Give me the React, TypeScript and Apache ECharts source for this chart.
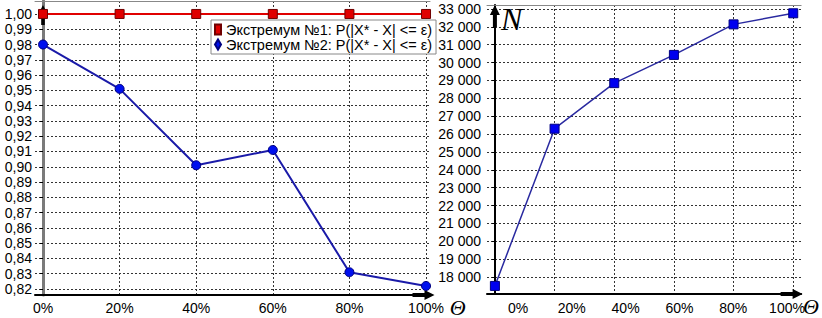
import React, { useEffect, useRef } from 'react';
import * as echarts from 'echarts';

const categories = ['0%', '20%', '40%', '60%', '80%', '100%'];
const categoryIndex = [0, 1, 2, 3, 4, 5];
const seriesNames = ['Экстремум №1: P(|X* - X| <= ε)', 'Экстремум №2: P(|X* - X| <= ε)'];
const extremum1 = [1.0, 1.0, 1.0, 1.0, 1.0, 1.0];
const extremum2 = [0.98, 0.951, 0.901, 0.911, 0.831, 0.822];
const nValues = [17500, 26300, 28850, 30430, 32140, 32760];
const leftYTicks = [0.82, 0.83, 0.84, 0.85, 0.86, 0.87, 0.88, 0.89, 0.9, 0.91, 0.92, 0.93, 0.94, 0.95, 0.96, 0.97, 0.98, 0.99, 1.0];
const rightYTicks = [18000, 19000, 20000, 21000, 22000, 23000, 24000, 25000, 26000, 27000, 28000, 29000, 30000, 31000, 32000, 33000];

const ARROW = 'path://M5,0L10,10L7,10L7,22L3,22L3,10L0,10Z';
const GRID_LINE = { show: true, lineStyle: { color: '#333', type: [2, 2] as any, width: 1 } };
const FONT = 'Liberation Sans';

export default function App() {
  const ref = useRef<HTMLDivElement>(null);
  useEffect(() => {
    if (!ref.current) return;
    const chart = echarts.init(ref.current, null, { renderer: 'svg' });
    const leftMin = 0.81609, leftMax = 1.00848;
    const lxMin = -0.1044, lxMax = 5.052;
    const rMin = 17048.5, rMax = 33223.9;
    const rxMin = -0.1325, rxMax = 5.132;
    const fmtComma = (v: number) => v.toFixed(2).replace('.', ',');
    const fmtThousands = (v: number) => String(Math.round(v)).replace(/\B(?=(\d{3})+(?!\d))/g, ' ');
    const option: any = {
      animation: false,
      backgroundColor: '#fff',
      textStyle: { fontFamily: FONT },
      grid: [
        { left: 35, top: 1, width: 395, height: 295 },
        { left: 487, top: 5, width: 318, height: 289 },
        { left: 518, top: 5, width: 269, height: 289 },
      ],
      legend: {
        data: [
          { name: seriesNames[0], icon: 'rect' },
          { name: seriesNames[1], icon: 'diamond' },
        ],
        orient: 'vertical',
        left: 211,
        top: 20,
        padding: [2, 4, 2, 3],
        itemGap: 0,
        itemWidth: 6,
        itemHeight: 10,
        itemTextGap: 3,
        backgroundColor: '#fff',
        borderColor: '#888',
        borderWidth: 1,
        borderRadius: 0,
        textStyle: { fontFamily: FONT, fontSize: 14.5, color: '#000', lineHeight: 15 },
      },
      xAxis: [
        {
          type: 'value', gridIndex: 0, min: lxMin, max: lxMax,
          axisLine: { show: true, symbol: ['none', ARROW], symbolSize: [10, 22], symbolOffset: [0, -6.5], lineStyle: { color: '#000', width: 2 } },
          axisTick: { show: false, customValues: categoryIndex },
          splitLine: GRID_LINE,
          axisLabel: { customValues: categoryIndex, formatter: (v: number) => categories[Math.round(v)], margin: 6, fontSize: 14, color: '#000', fontFamily: FONT },
          name: 'Θ', nameLocation: 'end', nameGap: 9,
          nameTextStyle: { fontFamily: 'Liberation Serif', fontStyle: 'italic', fontSize: 22, color: '#000', verticalAlign: 'top', padding: [1, 0, 0, 0] },
        },
        {
          type: 'value', gridIndex: 0, position: 'top', min: lxMin, max: lxMax,
          axisLine: { show: true, lineStyle: { color: '#888', width: 1 } },
          axisTick: { show: false }, axisLabel: { show: false }, splitLine: { show: false },
        },
        {
          type: 'value', gridIndex: 1, min: rxMin, max: rxMax,
          axisLine: { show: true, symbol: ['none', ARROW], symbolSize: [10, 22], symbolOffset: [0, -9.5], lineStyle: { color: '#000', width: 2 } },
          axisTick: { show: false, customValues: categoryIndex },
          splitLine: GRID_LINE,
          axisLabel: { show: false },
          name: 'Θ', nameLocation: 'end', nameGap: 2,
          nameTextStyle: { fontFamily: 'Liberation Serif', fontStyle: 'italic', fontSize: 22, color: '#000', verticalAlign: 'top', padding: [1, 0, 0, 0] },
        },
        {
          type: 'value', gridIndex: 1, position: 'top', min: rxMin, max: rxMax,
          axisLine: { show: true, lineStyle: { color: '#888', width: 1 } },
          axisTick: { show: false }, axisLabel: { show: false }, splitLine: { show: false },
        },
        {
          type: 'value', gridIndex: 2, min: 0, max: 100, interval: 20,
          axisLine: { show: false }, axisTick: { show: false }, splitLine: { show: false },
          axisLabel: { formatter: '{value}%', margin: 7, fontSize: 14, color: '#000', fontFamily: FONT, showMinLabel: true, showMaxLabel: true },
        },
      ],
      yAxis: [
        {
          type: 'value', gridIndex: 0, min: leftMin, max: leftMax,
          axisLine: { show: true, lineStyle: { color: '#7a7a7a', width: 3 } },
          axisTick: { show: true, length: 3, customValues: leftYTicks, lineStyle: { color: '#000' } },
          splitLine: GRID_LINE,
          axisLabel: { customValues: leftYTicks, formatter: fmtComma, margin: 3, fontSize: 14, color: '#000', fontFamily: FONT },
        },
        {
          type: 'value', gridIndex: 0, min: leftMin, max: leftMax,
          axisLine: { show: true, symbol: ['none', ARROW], symbolSize: [9, 20], symbolOffset: [0, -14], lineStyle: { color: '#000', width: 0 } },
          axisTick: { show: false }, axisLabel: { show: false }, splitLine: { show: false },
        },
        {
          type: 'value', gridIndex: 1, min: rMin, max: rMax,
          axisLine: { show: true, symbol: ['none', ARROW], symbolSize: [10, 22], symbolOffset: [0, -11], lineStyle: { color: '#000', width: 2 } },
          axisTick: { show: true, length: 3, customValues: rightYTicks, lineStyle: { color: '#000' } },
          splitLine: GRID_LINE,
          axisLabel: { customValues: rightYTicks, formatter: fmtThousands, margin: 6, fontSize: 14, color: '#000', fontFamily: FONT },
          name: 'N', nameLocation: 'end', nameGap: 2,
          nameTextStyle: { fontFamily: 'Liberation Serif', fontStyle: 'italic', fontSize: 32, color: '#000', align: 'left', verticalAlign: 'top', padding: [0, 0, 0, 6] },
        },
        { type: 'value', gridIndex: 2, min: 0, max: 1, show: false },
      ],
      series: [
        {
          name: seriesNames[0], type: 'line', xAxisIndex: 0, yAxisIndex: 0,
          data: categoryIndex.map((i) => [i, extremum1[i]]),
          symbol: 'rect', symbolSize: 9,
          lineStyle: { color: '#e00000', width: 2 },
          itemStyle: { color: '#e00000', borderColor: '#700000', borderWidth: 1 },
        },
        {
          name: seriesNames[1], type: 'line', xAxisIndex: 0, yAxisIndex: 0,
          data: categoryIndex.map((i) => [i, extremum2[i]]),
          symbol: 'circle', symbolSize: 9,
          lineStyle: { color: '#1a1aa8', width: 2 },
          itemStyle: { color: '#0010ee', borderColor: '#000080', borderWidth: 1 },
        },
        {
          name: 'N', type: 'line', xAxisIndex: 2, yAxisIndex: 2,
          data: categoryIndex.map((i) => [i, nValues[i]]),
          symbol: 'rect', symbolSize: 9,
          lineStyle: { color: '#2a2aa0', width: 1.5 },
          itemStyle: { color: '#0000f0', borderColor: '#000080', borderWidth: 1 },
        },
      ],
    };
    chart.setOption(option);
    return () => chart.dispose();
  }, []);
  return <div ref={ref} style={{ position: 'fixed', left: 0, top: 0, width: 822, height: 318 }} />;
}
